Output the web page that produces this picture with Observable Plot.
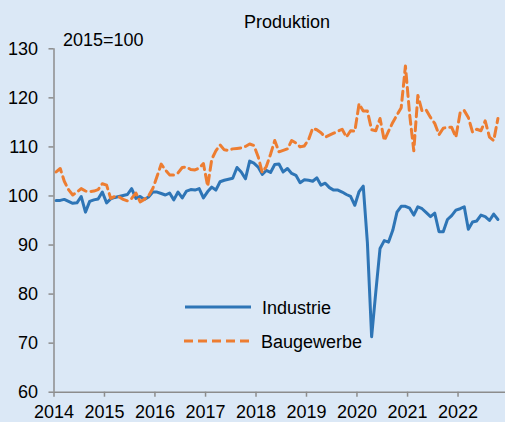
<!DOCTYPE html>
<html>
<head>
<meta charset="utf-8">
<script src="https://cdn.jsdelivr.net/npm/d3@7"></script>
<script src="https://cdn.jsdelivr.net/npm/@observablehq/plot@0.6"></script>
<style>
  html, body { margin: 0; padding: 0; background: #dbe8f6; }
  #wrap { position: relative; width: 505px; height: 422px; background: #dbe8f6; overflow: hidden;
          font-family: "Liberation Sans", Arial, sans-serif; color: #000; }
  #wrap svg { display: block; }
  #overlay { position: absolute; left: 0; top: 0; pointer-events: none; }
</style>
</head>
<body>
<div id="wrap"></div>
<script>
// ---- data (monthly, Jan 2014 – Oct 2022, index 2015=100) ----
const title = "Produktion";
const unitLabel = "2015=100";
const seriesNames = ["Industrie", "Baugewerbe"];
const firstMonth = [2014, 0];
const yTicks = [60, 70, 80, 90, 100, 110, 120, 130];
const xTickYears = [2014, 2015, 2016, 2017, 2018, 2019, 2020, 2021, 2022];

const industrie = [
  99.1, 99.1, 99.3, 98.9, 98.5, 98.6, 99.9, 96.7, 98.9, 99.2, 99.4, 100.8,
  98.6, 99.4, 99.7, 99.9, 100.1, 100.3, 101.5, 99.5, 99.9, 99.3, 99.8, 100.8,
  100.8, 100.5, 100.2, 100.6, 99.2, 100.8, 99.6, 101.0, 101.3, 101.2, 101.5, 99.6,
  100.9, 101.8, 101.2, 102.9, 103.2, 103.4, 103.6, 105.8, 104.9, 103.5, 107.1, 106.7,
  105.9, 104.4, 105.2, 104.8, 106.4, 106.5, 104.9, 105.6, 104.6, 104.2, 102.7, 103.3,
  103.2, 103.0, 103.7, 102.2, 102.6, 101.7, 101.2, 101.2, 100.8, 100.3, 99.9, 98.1,
  100.9, 102.0, 90.5, 71.3, 80.5, 89.3, 90.9, 90.6, 93.0, 96.7, 97.9, 97.9,
  97.5, 96.1, 97.8, 97.4, 96.6, 95.8, 96.5, 92.7, 92.7, 95.2, 96.0, 97.1,
  97.4, 97.8, 93.2, 94.7, 94.9, 96.1, 95.8, 95.0, 96.3, 95.2
];
const baugewerbe = [
  104.9, 105.6, 103.0, 101.3, 100.2, 100.8, 101.5, 101.0, 100.9, 101.0, 101.3, 102.5,
  102.2, 99.5, 99.9, 99.8, 99.3, 99.0, 99.5, 100.6, 98.8, 99.3, 100.0, 101.5,
  104.0, 106.5, 105.3, 104.3, 104.3, 104.7, 105.8, 105.9, 105.4, 105.3, 105.7, 106.6,
  102.0, 107.5, 109.2, 110.4, 109.4, 109.3, 109.6, 109.7, 109.8, 110.1, 110.6, 110.3,
  108.0, 104.8, 106.0, 108.5, 111.3, 109.0, 109.3, 109.6, 111.3, 110.8, 110.0, 110.2,
  111.5, 113.8, 113.5, 112.9, 112.0, 112.4, 112.8, 113.2, 113.6, 112.0, 113.3, 113.2,
  118.8, 117.3, 117.3, 113.5, 113.3, 115.8, 111.3, 113.2, 115.0, 116.5, 118.0, 126.5,
  116.5, 109.2, 120.5, 117.3, 117.5, 116.0, 114.8, 112.5, 113.8, 114.0, 114.0, 112.0,
  117.0, 117.4, 116.0, 113.0, 113.6, 113.3, 115.3, 112.0, 111.3, 115.8
];

// ---- build table ----
const start = new Date(Date.UTC(firstMonth[0], firstMonth[1], 1));
function midMonth(i) {
  const a = d3.utcMonth.offset(start, i), b = d3.utcMonth.offset(start, i + 1);
  return new Date((+a + +b) / 2);
}
const rows = [];
industrie.forEach((v, i) => rows.push({date: midMonth(i), value: v, series: seriesNames[0]}));
baugewerbe.forEach((v, i) => rows.push({date: midMonth(i), value: v, series: seriesNames[1]}));

const blue = "#2e75b6", orange = "#ed7d31", axisGray = "#8c8c8c";
const font = "'Liberation Sans', Arial, sans-serif";
const xTicks = xTickYears.map(y => new Date(Date.UTC(y, 0, 1)));

const chart = Plot.plot({
  width: 505,
  height: 422,
  marginLeft: 53.5,
  marginRight: -3,
  marginTop: 48.3,
  marginBottom: 30.3,
  style: {background: "transparent", fontFamily: font, fontSize: "18px", color: "#000"},
  x: {type: "utc", domain: [start, new Date(Date.UTC(2023, 0, 1))]},
  y: {domain: [yTicks[0], yTicks[yTicks.length - 1]]},
  marks: [
    Plot.axisY({ticks: yTicks, tickSize: 5, tickPadding: 11, stroke: axisGray, strokeWidth: 1.5,
                fill: "#000", fontSize: 18, label: null}),
    Plot.axisX({ticks: xTicks, tickFormat: d3.utcFormat("%Y"), tickSize: 5, tickPadding: 8,
                stroke: axisGray, strokeWidth: 1.5, fill: "#000", fontSize: 18, label: null}),
    Plot.ruleX([start], {stroke: axisGray, strokeWidth: 1.5}),
    Plot.ruleY([yTicks[0]], {stroke: axisGray, strokeWidth: 1.5}),
    Plot.line(rows.filter(d => d.series === seriesNames[0]),
              {x: "date", y: "value", stroke: blue, strokeWidth: 3, strokeLinejoin: "round"}),
    Plot.line(rows.filter(d => d.series === seriesNames[1]),
              {x: "date", y: "value", stroke: orange, strokeWidth: 3, strokeDasharray: "9,5",
               strokeLinejoin: "round"})
  ]
});
const wrap = document.getElementById("wrap");
wrap.appendChild(chart);

// ---- title, unit label and legend (overlay) ----
const ns = "http://www.w3.org/2000/svg";
const ov = document.createElementNS(ns, "svg");
ov.setAttribute("id", "overlay");
ov.setAttribute("width", 505);
ov.setAttribute("height", 422);
ov.style.fontFamily = font;
ov.style.fontSize = "18px";
function txt(x, y, s, anchor) {
  const t = document.createElementNS(ns, "text");
  t.setAttribute("x", x); t.setAttribute("y", y);
  t.setAttribute("fill", "#000");
  if (anchor) t.setAttribute("text-anchor", anchor);
  t.textContent = s; ov.appendChild(t);
}
function ln(x1, x2, y, color, dash) {
  const l = document.createElementNS(ns, "line");
  l.setAttribute("x1", x1); l.setAttribute("x2", x2);
  l.setAttribute("y1", y); l.setAttribute("y2", y);
  l.setAttribute("stroke", color); l.setAttribute("stroke-width", 3);
  if (dash) l.setAttribute("stroke-dasharray", dash);
  ov.appendChild(l);
}
txt(287, 28, title, "middle");
txt(63, 46, unitLabel);
ln(185, 251, 307, blue);
txt(262, 313.5, seriesNames[0]);
ln(184, 253, 341, orange, "9,5");
txt(261, 347.5, seriesNames[1]);
wrap.appendChild(ov);
</script>
</body>
</html>
